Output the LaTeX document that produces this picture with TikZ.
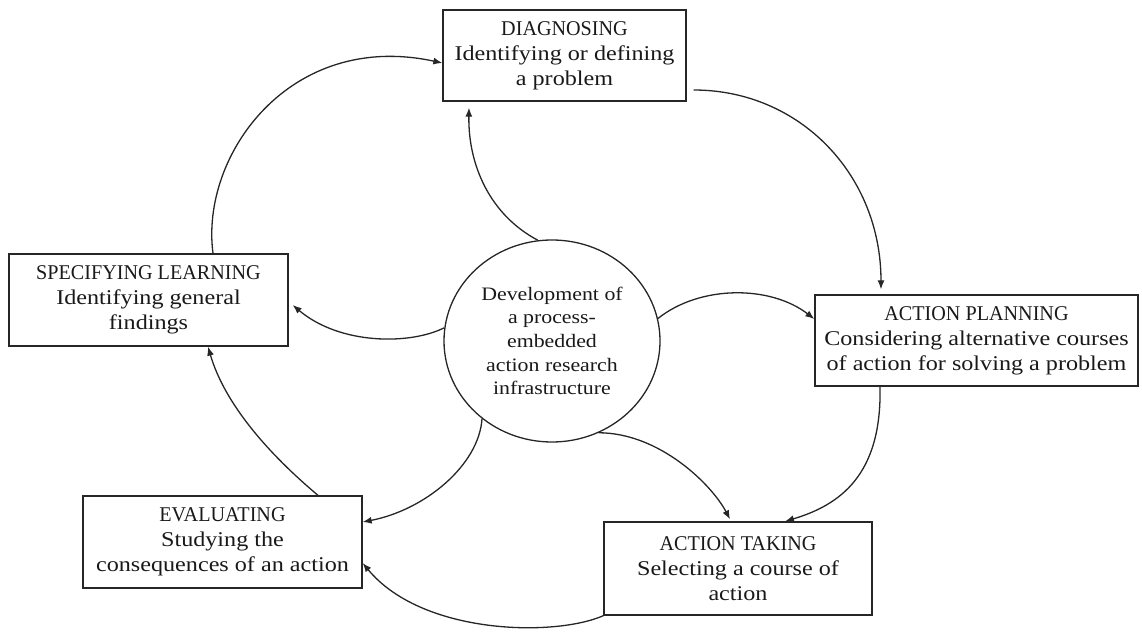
\documentclass[tikz,border=0pt]{standalone}
\usepackage{fontspec}
\setmainfont[FakeStretch=1.15]{Liberation Serif}
\newfontfamily\hdfont[FakeStretch=0.96]{Liberation Serif}
\usetikzlibrary{arrows.meta,shapes.geometric}
\begin{document}
\begin{tikzpicture}[x=1pt,y=1pt,
  stagebox/.style={draw=black!85, line width=1.3pt, rectangle, inner sep=0pt,
    align=center, font=\fontsize{21}{25}\selectfont, text=black!90},
  hub/.style={draw=black!85, line width=1.3pt, ellipse, inner sep=0pt,
    minimum width=216pt, minimum height=202pt, align=center,
    font=\fontsize{19}{23.7}\selectfont, text=black!90},
  flow/.style={draw=black!85, line width=1.3pt, -{Latex[length=9pt,width=7pt]}}]
\useasboundingbox (0,0) rectangle (1142,635);

% the five stages of the cycle
\node[stagebox, minimum width=243pt, minimum height=91pt] (diag) at (564.5,579.5)
  {{\hdfont DIAGNOSING}\\Identifying or defining\\a problem};
\node[stagebox, minimum width=323pt, minimum height=91pt] (plan) at (976.5,294.5)
  {{\hdfont ACTION PLANNING}\\Considering alternative courses\\of action for solving a problem};
\node[stagebox, minimum width=268pt, minimum height=93pt] (take) at (738,66.5)
  {{\hdfont ACTION TAKING}\\Selecting a course of\\action};
\node[stagebox, minimum width=279pt, minimum height=92pt] (eval) at (222.5,93)
  {{\hdfont EVALUATING}\\Studying the\\consequences of an action};
\node[stagebox, minimum width=279pt, minimum height=92pt] (spec) at (148.5,335)
  {{\hdfont SPECIFYING LEARNING}\\Identifying general\\findings};

% central infrastructure
\node[hub] (hub) at (552,294)
  {Development of\\a process-\\embedded\\action research\\infrastructure};

% outer cycle
\draw[flow] ([xshift=64.5pt]spec.north) .. controls (200,480) and (290,605) .. ([yshift=-7.5pt]diag.west);
\draw[flow] ([xshift=7pt,yshift=-34.5pt]diag.east) .. controls (800,545) and (881,460) .. ([xshift=-95.5pt,yshift=5pt]plan.north);
\draw[flow] ([xshift=-96.5pt]plan.south) .. controls (882,160) and (840,130) .. ([xshift=47pt]take.north);
\draw[flow] (take.south west) .. controls (555,-2) and (422,0) .. ([yshift=-21pt]eval.east);
\draw[flow] ([xshift=95.5pt]eval.north) .. controls (270,180) and (225,230) .. ([xshift=59.5pt]spec.south);

% from the infrastructure to each stage
\draw[flow] (hub.98.6) .. controls (490,420) and (468,470) .. ([xshift=-95.5pt,yshift=-6pt]diag.south);
\draw[flow] (hub.12.6) .. controls (700,350) and (770,350) .. ([yshift=21.5pt]plan.west);
\draw[flow] (hub.-63) .. controls (660,202) and (712,150) .. ([xshift=-8pt,yshift=2pt]take.north);
\draw[flow] (hub.-132.7) .. controls (479,170) and (425,125) .. ([yshift=20pt]eval.east);
\draw[flow] (hub.173) .. controls (410,290) and (340,290) .. ([xshift=4pt,yshift=-5pt]spec.east);
\end{tikzpicture}
\end{document}
